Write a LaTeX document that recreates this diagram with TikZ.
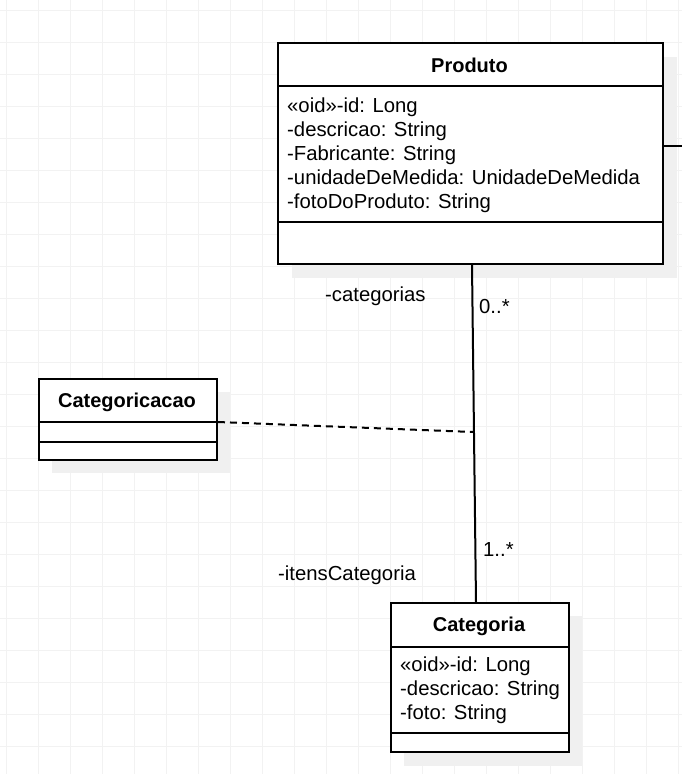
\documentclass[tikz,border=0pt]{standalone}
\usepackage{fontspec}
\setmainfont{Liberation Sans}
\begin{document}
\begin{tikzpicture}[x=1pt,y=-1pt,
  gridline/.style={draw=gridgray,line width=1pt},
  shadowbox/.style={fill=shadowgray,draw=none},
  classbox/.style={draw=black,line width=2pt,fill=white,anchor=north west,inner sep=0pt},
  sepline/.style={draw=black,line width=2pt},
  title/.style={font=\fontsize{20pt}{24pt}\selectfont\bfseries,anchor=base,inner sep=0pt},
  attr/.style={font=\fontsize{20.3pt}{24pt}\selectfont,anchor=base west,inner sep=0pt},
  lbl/.style={font=\fontsize{20.3pt}{24pt}\selectfont,anchor=base west,inner sep=0pt},
  assoc/.style={draw=black,line width=2pt},
  dashedassoc/.style={draw=black,line width=2pt,dash pattern=on 7pt off 5pt}]
\definecolor{gridgray}{HTML}{F2F2F2}
\definecolor{shadowgray}{HTML}{F0F0F0}
\useasboundingbox (0,0) rectangle (682,774);
\fill[white] (0,0) rectangle (682,774);
% grid
\foreach \gx in {6,38,...,682} {\draw[gridline] (\gx,0) -- (\gx,774);}
\foreach \gy in {10,42,...,774} {\draw[gridline] (0,\gy) -- (682,\gy);}
% shadows
\fill[shadowgray] (292,57) rectangle (677,278);
\fill[shadowgray] (52,392) rectangle (230,473);
\fill[shadowgray] (404,616) rectangle (582,766);
% Produto
\node[classbox,minimum width=385pt,minimum height=221pt] (produto) at (277,42) {};
\draw[sepline] (277,86) -- (662,86);
\draw[sepline] (277,222) -- (662,222);
\node[title] (produtoT) at (469.5,72) {Produto};
\node[attr] (p1) at (287,112) {«oid»-id: Long};
\node[attr] (p2) at (287,136) {-descricao: String};
\node[attr] (p3) at (287,160) {-Fabricante: String};
\node[attr] (p4) at (287,184) {-unidadeDeMedida: UnidadeDeMedida};
\node[attr] (p5) at (287,208) {-fotoDoProduto: String};
% Categoricacao
\node[classbox,minimum width=178pt,minimum height=81pt] (categoricacao) at (38,378) {};
\draw[sepline] (38,422) -- (216,422);
\draw[sepline] (38,442) -- (216,442);
\node[title] (categoricacaoT) at (127,407) {Categoricacao};
% Categoria
\node[classbox,minimum width=178pt,minimum height=149pt] (categoria) at (390,602) {};
\draw[sepline] (390,647) -- (568,647);
\draw[sepline] (390,733) -- (568,733);
\node[title] (categoriaT) at (479,631) {Categoria};
\node[attr] (c1) at (400,671) {«oid»-id: Long};
\node[attr] (c2) at (400,695) {-descricao: String};
\node[attr] (c3) at (400,719) {-foto: String};
% connectors
\coordinate (assocTop) at ([xshift=195pt]produto.south west);
\coordinate (assocBot) at ([xshift=86pt]categoria.north west);
\draw[assoc] (assocTop) -- (assocBot);
\coordinate (dashEnd) at (473,432);
\draw[dashedassoc] (categoricacao.east |- 0,422) -- (dashEnd);
\coordinate (offEdge) at (682,146);
\draw[assoc] (produto.east |- offEdge) -- (offEdge);
% labels
\node[lbl] (lblCategorias) at (325,301) {-categorias};
\node[lbl] (lblZero) at (479,313) {0..*};
\node[lbl] (lblItens) at (278,580) {-itensCategoria};
\node[lbl] (lblOne) at (483,556) {1..*};
\end{tikzpicture}
\end{document}
